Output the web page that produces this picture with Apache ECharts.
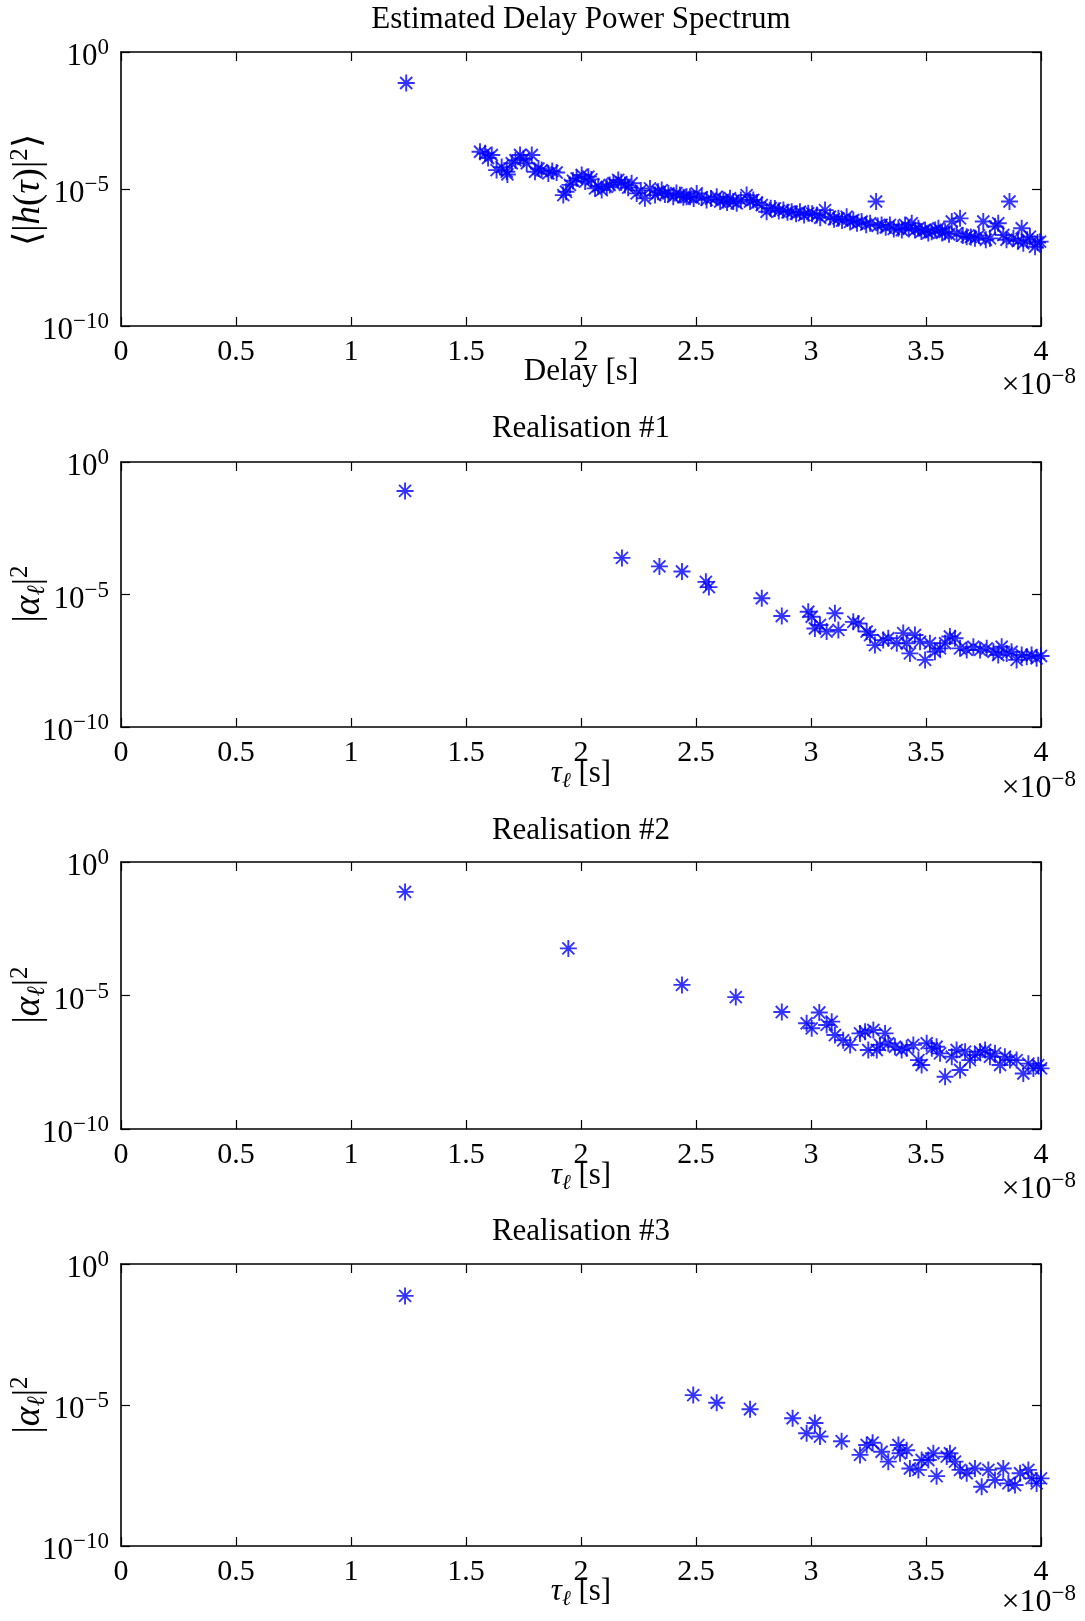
<!DOCTYPE html>
<html><head><meta charset="utf-8">
<script src="https://cdn.jsdelivr.net/npm/echarts@6/dist/echarts.min.js"></script>
<style>html,body{margin:0;padding:0;background:#fff}#c{width:1085px;height:1621px}</style>
</head><body><div id="c"></div>
<script>
// ---------------- DATA ----------------
const panelTitles = ['Estimated Delay Power Spectrum', 'Realisation #1', 'Realisation #2', 'Realisation #3'];
const yTickValues = [1e-10, 1e-5, 1];
const xMin = 0, xMax = 4, xStep = 0.5;   // delay in units of 1e-8 s
const xScaleExp = -8;

// Estimated delay power spectrum  (delay ×1e-8 s, power)
const pdpDelay = [1.24,1.561,1.583,1.596,1.612,1.633,1.655,1.677,1.680,1.699,1.715,1.735,1.750,1.764,1.786,1.800,1.815,1.829,1.858,1.875,1.894,1.923,1.935,1.952,1.965,1.981,2.003,2.018,2.032,2.045,2.061,2.075,2.090,2.112,2.125,2.141,2.162,2.175,2.191,2.205,2.220,2.242,2.260,2.278,2.300,2.322,2.335,2.351,2.365,2.380,2.401,2.415,2.430,2.445,2.459,2.474,2.490,2.503,2.525,2.546,2.565,2.590,2.605,2.619,2.635,2.648,2.662,2.677,2.695,2.720,2.735,2.749,2.765,2.786,2.807,2.825,2.843,2.860,2.880,2.898,2.916,2.935,2.952,2.970,2.988,3.005,3.025,3.040,3.061,3.083,3.100,3.119,3.135,3.155,3.170,3.184,3.200,3.220,3.240,3.257,3.283,3.290,3.307,3.325,3.343,3.360,3.380,3.395,3.409,3.425,3.438,3.452,3.467,3.480,3.496,3.510,3.525,3.540,3.554,3.570,3.583,3.600,3.612,3.633,3.648,3.660,3.677,3.695,3.713,3.730,3.749,3.760,3.778,3.800,3.814,3.836,3.850,3.863,3.880,3.900,3.916,3.923,3.940,3.952,3.974,3.985,3.996];
const pdpPower = [7.4e-2,2.29e-4,2.0e-4,1.35e-4,1.74e-4,4.9e-5,6.3e-5,4.27e-5,3.4e-5,8.7e-5,1.12e-4,1.74e-4,1.26e-4,8.7e-5,1.74e-4,4.27e-5,5.6e-5,4.9e-5,3.7e-5,4.5e-5,4.0e-5,6.0e-6,7.9e-6,1.41e-5,2.0e-5,2.45e-5,3.24e-5,1.86e-5,2.82e-5,2.24e-5,1.05e-5,1.26e-5,9.1e-6,1.2e-5,1.41e-5,1.62e-5,2.14e-5,1.78e-5,1.41e-5,1.12e-5,1.62e-5,6.9e-6,8.9e-6,4.6e-6,1.05e-5,6.0e-6,7.9e-6,9.1e-6,6.3e-6,6.9e-6,5.2e-6,7.1e-6,6.0e-6,5.0e-6,5.2e-6,5.2e-6,4.5e-6,6.9e-6,5.0e-6,4.0e-6,4.5e-6,5.2e-6,3.5e-6,4.0e-6,3.2e-6,4.6e-6,3.5e-6,3.0e-6,4.0e-6,6.0e-6,3.5e-6,4.0e-6,3.2e-6,2.6e-6,1.48e-6,2.0e-6,1.95e-6,1.58e-6,1.7e-6,1.41e-6,1.48e-6,1.26e-6,1.48e-6,1.12e-6,1.29e-6,1.26e-6,1.12e-6,8.9e-7,1.7e-6,9.8e-7,7.9e-7,8.5e-7,7.1e-7,9.8e-7,6.3e-7,7.4e-7,5.6e-7,6.5e-7,5.0e-7,5.6e-7,3.5e-6,4.5e-7,4.9e-7,4.0e-7,4.9e-7,3.5e-7,3.7e-7,3.2e-7,4.9e-7,3.5e-7,5.6e-7,3.2e-7,3.7e-7,2.8e-7,3.2e-7,2.5e-7,2.75e-7,3.2e-7,3.7e-7,2.5e-7,2.75e-7,2.24e-7,6.5e-7,2.4e-7,8.5e-7,2.0e-7,1.82e-7,1.78e-7,1.58e-7,2.0e-7,6.5e-7,1.41e-7,1.58e-7,4.3e-7,5.6e-7,2.1e-7,1.41e-7,3.5e-6,1.58e-7,1.26e-7,3.7e-7,1.05e-7,1.41e-7,1.82e-7,7.8e-8,1.12e-7,1.2e-7];

// Realisation #1
const r1Delay = [1.235,2.178,2.341,2.439,2.543,2.556,2.786,2.873,2.988,3.003,3.017,3.039,3.068,3.104,3.119,3.184,3.206,3.242,3.257,3.278,3.314,3.336,3.373,3.401,3.416,3.430,3.452,3.474,3.496,3.517,3.539,3.561,3.583,3.604,3.626,3.648,3.677,3.706,3.735,3.764,3.793,3.814,3.829,3.851,3.872,3.894,3.916,3.938,3.959,3.981,4.000];
const r1Power = [8.1e-2,2.4e-4,1.15e-4,7.4e-5,3.0e-5,1.9e-5,7.2e-6,1.55e-6,2.24e-6,1.45e-6,5.2e-7,7.1e-7,4.0e-7,1.95e-6,4.6e-7,9.3e-7,8.1e-7,4.0e-7,2.95e-7,1.23e-7,1.9e-7,2.24e-7,1.45e-7,3.5e-7,1.45e-7,6.0e-8,2.95e-7,1.66e-7,3.4e-8,1.45e-7,6.9e-8,9.3e-8,1.45e-7,2.6e-7,2.24e-7,9.3e-8,8.1e-8,1.07e-7,8.1e-8,9.3e-8,6.9e-8,5.2e-8,1.07e-7,6.0e-8,6.9e-8,3.4e-8,5.2e-8,4.5e-8,5.2e-8,3.9e-8,4.8e-8];

// Realisation #2
const r2Delay = [1.235,1.945,2.439,2.673,2.873,2.981,3.003,3.036,3.068,3.090,3.104,3.140,3.170,3.213,3.235,3.249,3.271,3.286,3.300,3.322,3.336,3.365,3.394,3.416,3.445,3.467,3.481,3.503,3.525,3.546,3.561,3.583,3.612,3.633,3.648,3.670,3.691,3.713,3.735,3.757,3.778,3.800,3.822,3.843,3.865,3.894,3.923,3.945,3.967,3.988,4.000];
const r2Power = [7.6e-2,5.8e-4,2.5e-5,8.7e-6,2.4e-6,9.1e-7,5.9e-7,2.3e-6,7.9e-7,1.05e-6,3.3e-7,2.1e-7,1.41e-7,3.8e-7,4.4e-7,9.1e-8,5.1e-7,9.1e-8,1.41e-7,3.8e-7,1.62e-7,1.2e-7,9.1e-8,1.05e-7,1.41e-7,3.8e-8,2.5e-8,1.62e-7,1.05e-7,1.2e-7,6.8e-8,9.1e-9,5.1e-8,9.1e-8,1.62e-8,7.9e-8,3.8e-8,5.9e-8,7.9e-8,9.1e-8,5.1e-8,6.8e-8,2.5e-8,5.1e-8,3.8e-8,3.8e-8,1.2e-8,2.8e-8,1.86e-8,2.45e-8,1.86e-8];

// Realisation #3
const r3Delay = [1.235,2.488,2.590,2.735,2.920,2.981,3.017,3.039,3.133,3.213,3.242,3.268,3.307,3.336,3.380,3.387,3.416,3.430,3.467,3.481,3.510,3.532,3.546,3.590,3.604,3.626,3.648,3.677,3.713,3.742,3.771,3.800,3.836,3.858,3.887,3.909,3.945,3.959,3.981,4.000];
const r3Power = [7.4e-2,2.24e-5,1.2e-5,7.1e-6,3.4e-6,1.0e-6,2.3e-6,7.6e-7,5.2e-7,1.7e-7,3.8e-7,4.6e-7,2.2e-7,9.8e-8,3.8e-7,1.95e-7,2.5e-7,5.6e-8,5.0e-8,1.12e-7,1.12e-7,1.95e-7,3.0e-8,1.48e-7,1.95e-7,9.8e-8,5.0e-8,3.8e-8,5.6e-8,1.26e-8,5.0e-8,2.2e-8,5.6e-8,1.66e-8,1.45e-8,3.8e-8,5.0e-8,2.5e-8,1.66e-8,2.5e-8];

const panelX = [pdpDelay, r1Delay, r2Delay, r3Delay];
const panelY = [pdpPower, r1Power, r2Power, r3Power];

// ---------------- LAYOUT ----------------
const FONT = '"Liberation Serif", "Times New Roman", serif';
const plotLeft = 121, plotRight = 44;
const panels = [
  {top: 52,   height: 274, titleY: 20,   nameY: 372,  sciY: 386,  ylabY: 190},
  {top: 462,  height: 265, titleY: 429,  nameY: 774,  sciY: 789,  ylabY: 594},
  {top: 862,  height: 267, titleY: 831,  nameY: 1176, sciY: 1190, ylabY: 995},
  {top: 1264, height: 282, titleY: 1232, nameY: 1592, sciY: 1603, ylabY: 1405}
];
const xNames = ['{n|Delay [s]}', '{i|τ}{sub|ℓ}{n| [s]}', '{i|τ}{sub|ℓ}{n| [s]}', '{i|τ}{sub|ℓ}{n| [s]}'];
const yNames = ['{n|⟨|}{i|h}{n|(}{i|τ}{n|)|}{sup|2}{n|⟩}', '{n||}{i|α}{sub|ℓ}{n||}{sup|2}', '{n||}{i|α}{sub|ℓ}{n||}{sup|2}', '{n||}{i|α}{sub|ℓ}{n||}{sup|2}'];

function mathRich(sz, ssz, shift) {
  return {
    n:   {fontFamily: FONT, fontSize: sz, color: '#000', lineHeight: sz + 4},
    i:   {fontFamily: FONT, fontSize: sz, fontStyle: 'italic', color: '#000', lineHeight: sz + 4},
    sub: {fontFamily: FONT, fontSize: ssz, fontStyle: 'italic', color: '#000', lineHeight: ssz, padding: [shift, 0, 0, 0]},
    sup: {fontFamily: FONT, fontSize: ssz, color: '#000', lineHeight: ssz, padding: [0, 0, shift + 2, 0]}
  };
}
const richName = mathRich(31, 21, 14);
const richYName = mathRich(37, 25, 16);
const richSci = mathRich(32, 23, 16);
const richTick = {
  b: {fontFamily: FONT, fontSize: 31, color: '#000', lineHeight: 31},
  s: {fontFamily: FONT, fontSize: 23, color: '#000', lineHeight: 23, padding: [0, 0, 18, 0]}
};
function expStr(e) { return e < 0 ? '\u2212' + Math.abs(e) : String(e); }

const asterisk = 'path://M10 0 L10 20 M0 10 L20 10 M2.93 2.93 L17.07 17.07 M2.93 17.07 L17.07 2.93';
const axisLineStyle = {color: '#000', width: 1.6};
const tickStyle = {color: '#000', width: 1.2};

const grid = [], xAxis = [], yAxis = [], series = [], graphic = [];
panels.forEach((p, i) => {
  grid.push({left: plotLeft, right: plotRight, top: p.top, height: p.height, containLabel: false});
  const xBase = {gridIndex: i, type: 'value', min: xMin, max: xMax, interval: xStep,
    axisLine: {show: true, onZero: false, lineStyle: axisLineStyle},
    axisTick: {show: true, inside: true, length: 9, lineStyle: tickStyle},
    splitLine: {show: false}};
  xAxis.push(Object.assign({}, xBase, {position: 'bottom',
    axisLabel: {show: true, color: '#000', fontFamily: FONT, fontSize: 30, margin: 11,
      formatter: v => String(+v.toFixed(2))}}));
  xAxis.push(Object.assign({}, xBase, {position: 'top', axisLabel: {show: false}}));
  const yBase = {gridIndex: i, type: 'log', logBase: 10, min: yTickValues[0], max: yTickValues[yTickValues.length - 1],
    axisLine: {show: true, onZero: false, lineStyle: axisLineStyle},
    axisTick: {show: true, inside: true, length: 9, lineStyle: tickStyle, customValues: yTickValues},
    minorTick: {show: false},
    splitLine: {show: false}};
  yAxis.push(Object.assign({}, yBase, {position: 'left',
    axisLabel: {show: true, margin: 12, customValues: yTickValues, padding: [10, 0, 0, 0],
      formatter: v => '{b|10}{s|' + expStr(Math.round(Math.log10(v))) + '}', rich: richTick}}));
  yAxis.push(Object.assign({}, yBase, {position: 'right', axisLabel: {show: false}}));

  series.push({type: 'scatter', xAxisIndex: 2 * i, yAxisIndex: 2 * i,
    data: panelX[i].map((x, k) => [x, panelY[i][k]]),
    symbol: asterisk, symbolSize: 17,
    itemStyle: {color: 'rgba(0,0,0,0)', borderColor: '#0000ff', borderWidth: 1.9},
    emphasis: {disabled: true}, silent: true});

  graphic.push({type: 'text', x: 581, y: p.titleY,
    style: {text: panelTitles[i], fill: '#000', font: '31px ' + FONT, align: 'center', verticalAlign: 'middle'}});
  graphic.push({type: 'text', x: 581, y: p.nameY,
    style: {text: xNames[i], rich: richName, align: 'center', verticalAlign: 'middle'}});
  graphic.push({type: 'text', x: 1076, y: p.sciY,
    style: {text: '{n|×10}{sup|' + expStr(xScaleExp) + '}', rich: richSci, align: 'right', verticalAlign: 'middle'}});
  graphic.push({type: 'text', x: 29, y: p.ylabY, rotation: Math.PI / 2,
    style: {text: yNames[i], rich: richYName, align: 'center', verticalAlign: 'middle'}});
});

const chart = echarts.init(document.getElementById('c'), null, {renderer: 'canvas'});
chart.setOption({
  animation: false,
  backgroundColor: '#fff',
  grid, xAxis, yAxis, series, graphic
});
</script>
</body></html>
